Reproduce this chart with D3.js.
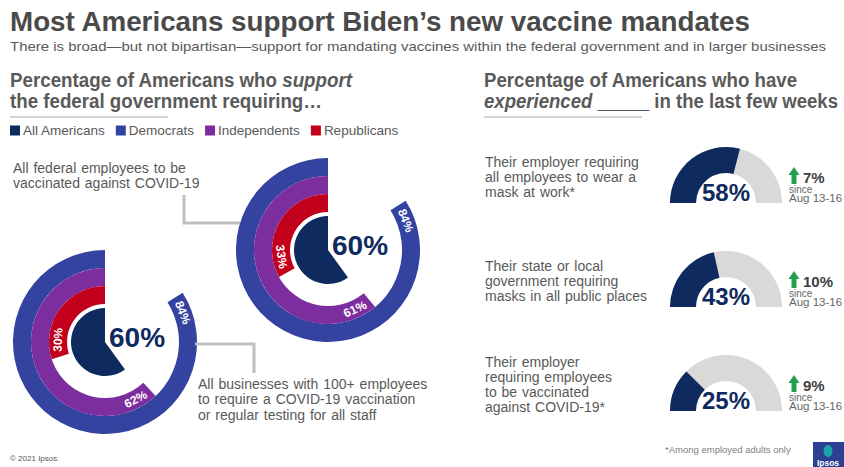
<!DOCTYPE html>
<html>
<head>
<meta charset="utf-8">
<script src="https://cdn.jsdelivr.net/npm/d3@7"></script>
<style>
  html, body { margin: 0; padding: 0; background: #fff; }
  svg { display: block; font-family: "Liberation Sans", Arial, Helvetica, sans-serif; }
</style>
</head>
<body>
<svg id="chart" width="844" height="467"></svg>
<script>
// ---- data ----
const groups = ["All Americans", "Democrats", "Independents", "Republicans"];
const groupColors = ["#0f2a5e", "#3443a0", "#7d2e9e", "#c3001c"];

const mandateLabels = [
  ["All federal employees to be", "vaccinated against COVID-19"],
  ["All businesses with 100+ employees", "to require a COVID-19 vaccination", "or regular testing for all staff"]
];
const federalSupport = [60, 84, 61, 33];   // All, Dem, Ind, Rep
const businessSupport = [60, 84, 62, 30];  // All, Dem, Ind, Rep

const experienceLabels = [
  ["Their employer requiring", "all employees to wear a", "mask at work*"],
  ["Their state or local", "government requiring", "masks in all public places"],
  ["Their employer", "requiring employees", "to be vaccinated", "against COVID-19*"]
];
const experiencedPct = [58, 43, 25];
const changeSince = [7, 10, 9];
const changePeriod = "Aug 13-16";

// ---- drawing ----
const svg = d3.select("#chart");
const textGray = "#595959";
const lineGray = "#bfbfbf";

// Title block
svg.append("text").attr("x", 10).attr("y", 31)
  .attr("font-size", 27.5).attr("font-weight", "bold").attr("fill", "#4a4a4a")
  .attr("textLength", 740).attr("lengthAdjust", "spacingAndGlyphs")
  .text("Most Americans support Biden\u2019s new vaccine mandates");

svg.append("text").attr("x", 10).attr("y", 51)
  .attr("font-size", 13.5).attr("fill", textGray)
  .attr("textLength", 816).attr("lengthAdjust", "spacingAndGlyphs")
  .text("There is broad\u2014but not bipartisan\u2014support for mandating vaccines within the federal government and in larger businesses");

// Section headings
function heading(x, y, parts, len) {
  const t = svg.append("text").attr("x", x).attr("y", y)
    .attr("font-size", 20).attr("font-weight", "bold").attr("fill", "#5a5a5a")
    .attr("textLength", len).attr("lengthAdjust", "spacingAndGlyphs");
  parts.forEach(p => t.append("tspan").attr("font-style", p[1] ? "italic" : null).text(p[0]));
}
heading(10, 87, [["Percentage of Americans who ", false], ["support", true]], 342);
heading(10, 108, [["the federal government requiring\u2026", false]], 312);
heading(484, 87, [["Percentage of Americans who have", false]], 313);
heading(484, 108, [["experienced", true], [" _____ in the last few weeks", false]], 354);

svg.append("line").attr("x1", 10).attr("x2", 168).attr("y1", 117).attr("y2", 117)
  .attr("stroke", "#d4d4d4").attr("stroke-width", 2);
svg.append("line").attr("x1", 484).attr("x2", 642).attr("y1", 117).attr("y2", 117)
  .attr("stroke", "#d4d4d4").attr("stroke-width", 2);

// Legend
let lx = 10;
groups.forEach((g, i) => {
  svg.append("rect").attr("x", lx).attr("y", 125.5).attr("width", 10).attr("height", 10)
    .attr("fill", groupColors[i]);
  const t = svg.append("text").attr("x", lx + 13).attr("y", 135)
    .attr("font-size", 13.5).attr("fill", textGray).text(g);
  lx += 13 + t.node().getComputedTextLength() + 11;
});

// Radial bar charts (counter-clockwise from 12 o'clock)
const sweep = d3.scaleLinear().domain([0, 100]).range([0, -2 * Math.PI]);
const rings = [[0, 34], [74, 92], [56, 74], [38, 56]];

function radial(values, cx, cy) {
  const g = svg.append("g").attr("transform", `translate(${cx},${cy})`);
  values.forEach((v, i) => {
    g.append("path")
      .attr("d", d3.arc()({ innerRadius: rings[i][0], outerRadius: rings[i][1], startAngle: 0, endAngle: sweep(v) }))
      .attr("fill", groupColors[i]);
  });
  // value labels along the ring ends
  values.forEach((v, i) => {
    if (i === 0) return;
    const rm = (rings[i][0] + rings[i][1]) / 2;
    const a = sweep(v) + 17 / rm;
    let deg = (a * 180 / Math.PI) % 360;
    if (deg < 0) deg += 360;
    const rot = (deg > 90 && deg < 270) ? deg - 180 : deg;
    g.append("text")
      .attr("transform", `translate(${rm * Math.sin(a)},${-rm * Math.cos(a)}) rotate(${rot})`)
      .attr("text-anchor", "middle").attr("dominant-baseline", "central")
      .attr("font-size", 12).attr("font-weight", "bold").attr("fill", "#fff")
      .text(v + "%");
  });
  g.append("text").attr("x", 4).attr("y", 5)
    .attr("font-size", 28).attr("font-weight", "bold").attr("fill", groupColors[0])
    .text(values[0] + "%");
  return g;
}

radial(federalSupport, 328, 250);
radial(businessSupport, 105, 342);

// Connectors and mandate descriptions
svg.append("polyline").attr("points", "184,195 184,223 240,223")
  .attr("fill", "none").attr("stroke", lineGray).attr("stroke-width", 3);
svg.append("polyline").attr("points", "195,344 254,344 254,373")
  .attr("fill", "none").attr("stroke", lineGray).attr("stroke-width", 3);

function lines(x, y0, arr, lh) {
  arr.forEach((s, k) => {
    svg.append("text").attr("x", x).attr("y", y0 + k * lh)
      .attr("font-size", 14).attr("fill", textGray).attr("word-spacing", 1).text(s);
  });
}
lines(13, 173, mandateLabels[0], 15);
lines(198, 389, mandateLabels[1], 15.4);

// Gauges
const gaugeAngle = d3.scaleLinear().domain([0, 100]).range([-Math.PI / 2, Math.PI / 2]);
const gcx = 726, gcy = [203, 307, 411];
const gArc = d3.arc().innerRadius(30).outerRadius(56);

experiencedPct.forEach((v, i) => {
  const cy = gcy[i];
  const g = svg.append("g").attr("transform", `translate(${gcx},${cy})`);
  g.append("path").attr("d", gArc({ startAngle: gaugeAngle(0), endAngle: gaugeAngle(100) })).attr("fill", "#d9d9d9");
  g.append("path").attr("d", gArc({ startAngle: gaugeAngle(0), endAngle: gaugeAngle(v) })).attr("fill", groupColors[0]);
  g.append("text").attr("x", 0).attr("y", -2).attr("text-anchor", "middle")
    .attr("font-size", 24).attr("font-weight", "bold").attr("fill", groupColors[0])
    .text(v + "%");

  // description, vertically centred on the gauge
  const arr = experienceLabels[i];
  const y0 = cy - 26.5 - (arr.length - 1) * 15 / 2 + 5;
  lines(485, y0, arr, 15);

  // change indicator
  const ax = 794, top = cy - 36;
  svg.append("path")
    .attr("d", `M${ax},${top} L${ax + 5.5},${top + 8} L${ax + 2.5},${top + 8} L${ax + 2.5},${top + 17} L${ax - 2.5},${top + 17} L${ax - 2.5},${top + 8} L${ax - 5.5},${top + 8} Z`)
    .attr("fill", "#22a04b");
  svg.append("text").attr("x", 803).attr("y", cy - 20)
    .attr("font-size", 15).attr("font-weight", "bold").attr("fill", "#404040")
    .text(changeSince[i] + "%");
  svg.append("text").attr("x", 789).attr("y", cy - 10)
    .attr("font-size", 10).attr("fill", "#666").text("since");
  svg.append("text").attr("x", 789).attr("y", cy - 1)
    .attr("font-size", 11.5).attr("fill", "#666").text(changePeriod);
});

// Footer
svg.append("text").attr("x", 665).attr("y", 453)
  .attr("font-size", 9.5).attr("fill", "#808080").text("*Among employed adults only");
svg.append("text").attr("x", 10).attr("y", 461)
  .attr("font-size", 8).attr("fill", "#555").text("\u00a9 2021 Ipsos");

// Ipsos mark
const logo = svg.append("g");
logo.append("rect").attr("x", 813).attr("y", 442).attr("width", 31).attr("height", 25).attr("fill", "#2d3f93");
logo.append("ellipse").attr("cx", 828).attr("cy", 451).attr("rx", 4.5).attr("ry", 6).attr("fill", "#1aa3a8");
logo.append("text").attr("x", 828).attr("y", 465.5).attr("text-anchor", "middle")
  .attr("font-size", 8.5).attr("font-weight", "bold").attr("fill", "#fff").text("Ipsos");
</script>
</body>
</html>
